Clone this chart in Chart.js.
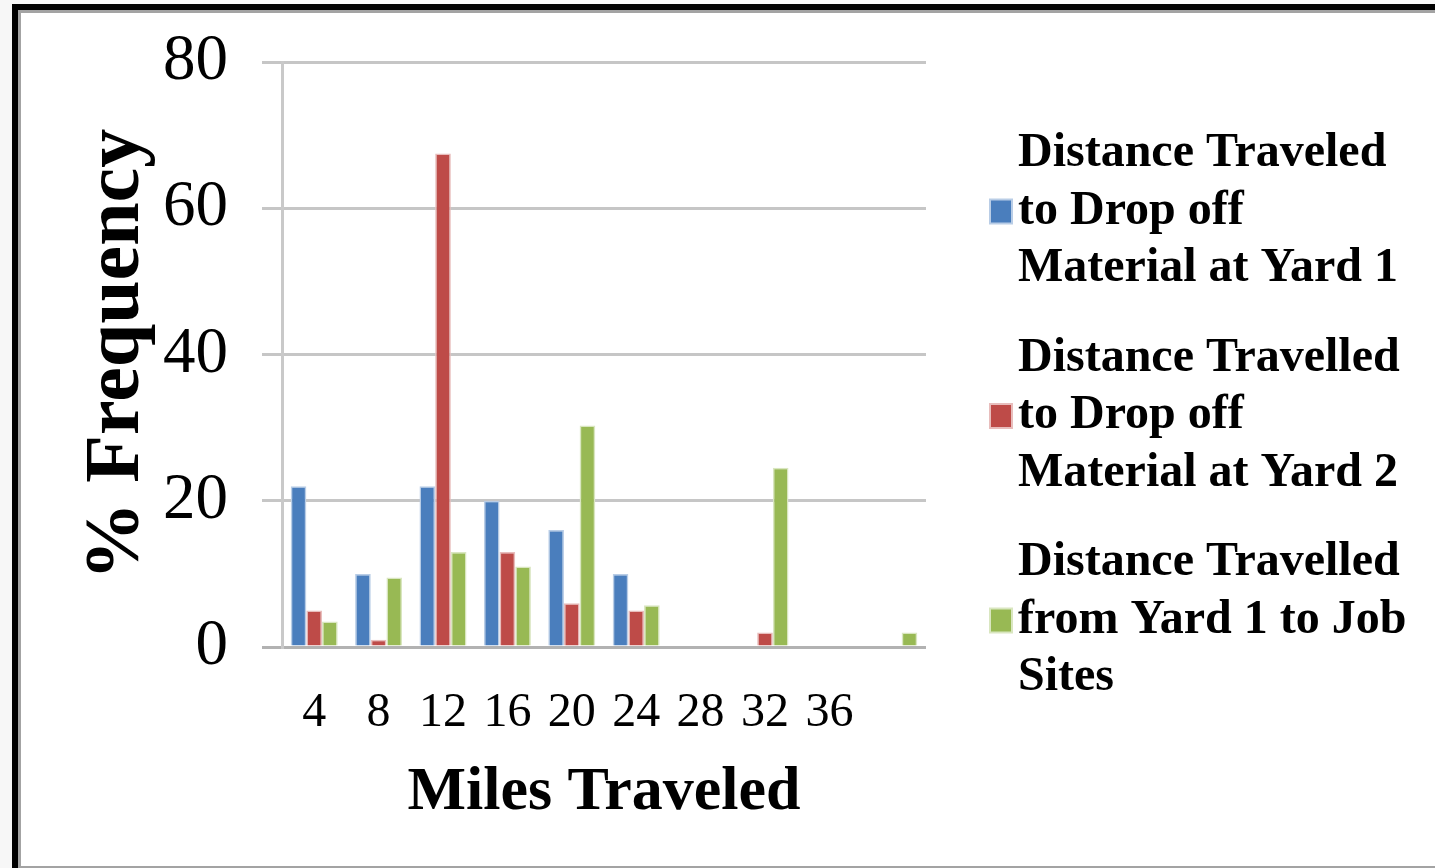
<!DOCTYPE html>
<html>
<head>
<meta charset="utf-8">
<script src="https://cdn.jsdelivr.net/npm/chart.js@4/dist/chart.umd.min.js"></script>
<style>
  html, body { margin: 0; padding: 0; width: 1435px; height: 868px; overflow: hidden; background: #f7f7f7; }
  #frame { position: absolute; left: 12px; top: 4px; width: 1423px; height: 864px; box-sizing: border-box;
           border-left: 6px solid #000; border-top: 6px solid #000; }
  #inner { width: 100%; height: 100%; box-sizing: border-box; background: #fff;
           border-left: 3px solid #a3a3a3; border-top: 3px solid #a3a3a3; border-bottom: 2px solid #a3a3a3; }
  #c { position: absolute; left: 0; top: 0; }
</style>
</head>
<body>
<div id="frame"><div id="inner"></div></div>
<canvas id="c" width="1435" height="868"></canvas>
<script>
// ---- data ----
const categories = ['4', '8', '12', '16', '20', '24', '28', '32', '36', ''];
const yard1DropOff = [22, 10, 22, 20, 16, 10, 0, 0, 0, 0];
const yard2DropOff = [5, 1, 67.5, 13, 6, 5, 0, 2, 0, 0];
const yard1ToJobSites = [3.5, 9.5, 13, 11, 30.3, 5.7, 0, 24.5, 0, 2];
const seriesNames = [
  'Distance Traveled to Drop off Material at Yard 1',
  'Distance Travelled to Drop off Material at Yard 2',
  'Distance Travelled from Yard 1 to Job Sites'
];
const legendLines = [
  ['Distance Traveled', 'to Drop off', 'Material at Yard 1'],
  ['Distance Travelled', 'to Drop off', 'Material at Yard 2'],
  ['Distance Travelled', 'from Yard 1 to Job', 'Sites']
];
const yTicks = [0, 20, 40, 60, 80];
const xTitle = 'Miles Traveled';
const yTitle = '% Frequency';

const fills = ['#4a7ebd', '#be4b48', '#98b954'];
const edges = ['#b9cde6', '#e8bdbc', '#d9e6c0'];
const SERIF = '"Liberation Serif", "Times New Roman", serif';

const legendPlugin = {
  id: 'sideLegend',
  afterDraw(chart) {
    const ctx = chart.ctx;
    ctx.save();
    ctx.font = 'bold 48px ' + SERIF;
    ctx.textBaseline = 'middle';
    ctx.textAlign = 'left';
    const lh = 57.5, gap = 204.5, top0 = 154;
    chart.data.datasets.forEach((ds, i) => {
      const lines = legendLines[i];
      const y0 = top0 + i * gap;
      ctx.fillStyle = '#000';
      lines.forEach((ln, j) => ctx.fillText(ln, 1018, y0 + j * lh));
      const by = y0 + lh;
      ctx.fillStyle = edges[i];
      ctx.fillRect(989, by - 13, 24, 26);
      ctx.fillStyle = ds.backgroundColor;
      ctx.fillRect(991, by - 11, 20, 22);
    });
    ctx.restore();
  }
};

const datasets = [yard1DropOff, yard2DropOff, yard1ToJobSites].map((vals, i) => ({
  label: seriesNames[i],
  data: vals,
  backgroundColor: fills[i],
  borderColor: edges[i],
  borderWidth: { left: 1.5, right: 1.5, top: 1.5, bottom: 0 },
  borderSkipped: 'bottom',
  categoryPercentage: 0.73,
  barPercentage: 1.0
}));

new Chart(document.getElementById('c'), {
  type: 'bar',
  data: { labels: categories, datasets },
  plugins: [legendPlugin],
  options: {
    responsive: false,
    animation: false,
    layout: { padding: { left: 0, right: 509, top: 62, bottom: 0 } },
    plugins: { legend: { display: false }, tooltip: { enabled: false } },
    scales: {
      x: {
        grid: { display: false, drawTicks: false },
        border: { display: false },
        ticks: { color: '#000', font: { family: SERIF, size: 48 }, padding: 38, maxRotation: 0, autoSkip: false },
        title: { display: true, text: xTitle, color: '#000', font: { family: SERIF, size: 62, weight: 'bold' }, padding: { top: 0, bottom: 38 } },
        afterFit(scale) { scale.height = 221; scale.paddingLeft = 0; scale.paddingRight = 0; }
      },
      y: {
        min: 0, max: 80,
        afterBuildTicks(scale) { scale.ticks = yTicks.map(v => ({ value: v })); },
        grid: {
          color: ctx => (ctx.tick && ctx.tick.value === 0) ? '#b2b2b2' : '#c6c6c6',
          lineWidth: 3,
          tickLength: 20,
          drawTicks: true
        },
        border: { display: true, color: '#c9c9c9', width: 3 },
        ticks: { color: '#000', font: { family: SERIF, size: 65 }, padding: 34 },
        title: { display: true, text: yTitle, color: '#000', font: { family: SERIF, size: 78, weight: 'bold' }, padding: { top: 71, bottom: 0 } },
        afterFit(scale) { scale.width = 282; scale.paddingTop = 0; scale.paddingBottom = 0; }
      }
    }
  }
});
</script>
</body>
</html>
